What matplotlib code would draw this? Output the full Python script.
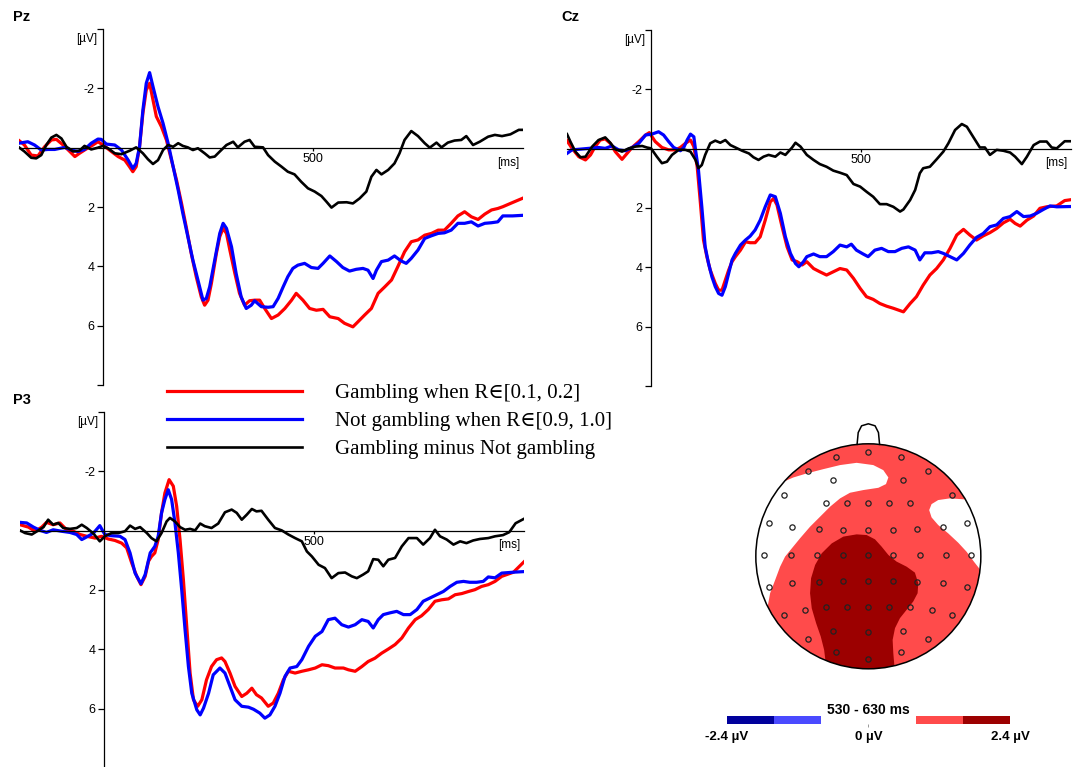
import matplotlib
matplotlib.use("Agg")
import matplotlib.pyplot as plt
import matplotlib.patches as mpatches

plt.rcParams['font.family'] = ['Liberation Sans', 'DejaVu Sans']

# ---- ERP data (time in ms, amplitude in uV, negative up) ----
pz_red_t = [-200,-187,-171,-155,-139,-123,-111,-95,-79,-67,-56,-44,-24,-12,0,20,36,52,63,71,79,87,95,103,111,119,127,139,151,163,
            175,187,198,210,222,234,242,250,258,270,278,286,294,302,314,325,337,349,361,373,385,401,417,433,449,460,476,492,508,524,
            540,560,575,595,607,623,639,655,671,687,702,718,734,750,766,782,798,813,829,845,861,877,893,909,925,940,952,975,1000]
pz_red_v = [-0.24,-0.09,0.25,0.28,-0.03,-0.26,-0.28,-0.09,0.13,0.30,0.19,0.08,-0.09,-0.20,-0.09,0.13,0.30,0.42,0.64,0.81,
            0.64,-0.03,-1.16,-1.94,-2.17,-1.61,-1.05,-0.71,-0.26,0.42,1.09,1.88,2.66,3.56,4.35,5.03,5.31,5.14,4.58,3.56,
            3.00,2.72,2.89,3.45,4.24,4.91,5.31,5.16,5.14,5.14,5.42,5.76,5.64,5.42,5.14,4.91,5.14,5.42,5.48,5.45,
            5.70,5.76,5.92,6.04,5.87,5.64,5.42,4.91,4.69,4.46,4.01,3.51,3.17,3.11,2.95,2.89,2.78,2.78,2.55,2.30,
            2.16,2.33,2.42,2.24,2.10,2.05,1.99,1.85,1.70]
pz_blue_t = [-200,-179,-163,-147,-131,-115,-91,-75,-60,-44,-28,-12,-4,8,28,44,60,71,79,87,95,103,111,119,131,143,155,167,179,190,
             202,214,226,238,246,254,266,278,286,294,306,317,329,341,353,361,377,393,405,417,429,440,452,464,480,496,512,524,540,556,
             571,587,603,619,631,643,651,663,679,694,710,722,734,750,766,782,798,813,829,845,861,877,893,909,925,940,952,975,1000]
pz_blue_v = [-0.15,-0.20,-0.09,0.08,0.06,0.06,-0.01,0.08,0.13,0.06,-0.15,-0.29,-0.28,-0.12,-0.09,0.08,0.42,0.70,0.53,-0.03,
             -1.27,-2.17,-2.53,-2.06,-1.38,-0.82,-0.15,0.64,1.43,2.21,3.00,3.79,4.46,5.14,5.08,4.69,3.79,2.89,2.55,2.72,
             3.34,4.24,5.03,5.42,5.31,5.16,5.36,5.38,5.36,5.08,4.69,4.35,4.07,3.96,3.90,4.04,4.07,3.90,3.65,3.84,
             4.04,4.16,4.10,4.07,4.13,4.41,4.13,3.84,3.79,3.65,3.82,3.90,3.73,3.45,3.06,2.97,2.89,2.87,2.78,2.55,
             2.55,2.50,2.64,2.55,2.53,2.50,2.30,2.30,2.28]
pz_diff_t = [-200,-187,-171,-159,-147,-135,-123,-111,-99,-87,-71,-56,-44,-28,-12,0,12,28,44,64,79,95,107,119,131,143,155,167,179,190,
             202,214,226,242,254,266,278,294,310,321,337,349,361,381,393,409,425,440,456,472,488,504,520,532,544,560,580,595,611,627,
             639,651,663,679,694,706,718,734,750,766,778,794,806,821,837,853,865,881,897,917,933,950,970,990,1000]
pz_diff_v = [-0.01,0.13,0.34,0.36,0.25,-0.09,-0.34,-0.43,-0.31,-0.03,0.13,0.10,-0.06,0.06,0.00,-0.06,0.02,0.19,0.22,0.10,
             -0.01,0.19,0.39,0.55,0.42,0.08,-0.09,-0.03,-0.15,-0.06,-0.01,0.08,0.02,0.19,0.33,0.30,0.13,-0.09,-0.20,-0.01,
             -0.20,-0.26,-0.03,-0.01,0.25,0.47,0.64,0.81,0.90,1.15,1.37,1.48,1.63,1.82,2.02,1.85,1.84,1.88,1.71,1.48,
             0.98,0.75,0.90,0.75,0.53,0.19,-0.26,-0.56,-0.39,-0.15,0.00,-0.17,-0.01,-0.17,-0.24,-0.26,-0.39,-0.09,-0.20,-0.37,
             -0.43,-0.39,-0.45,-0.60,-0.60]

cz_red_t = [-200,-188,-172,-156,-144,-133,-121,-109,-97,-85,-69,-57,-45,-29,-13,-4,10,26,42,58,70,82,94,102,110,117,125,133,141,153,
            161,169,177,185,193,201,213,225,236,248,260,272,284,292,300,312,324,336,348,360,371,387,402,418,434,450,466,482,498,513,
            529,545,561,577,593,601,617,632,648,664,680,696,712,728,744,759,775,791,807,823,839,855,867,879,895,911,926,942,966,985,1000]
cz_red_v = [-0.27,-0.01,0.27,0.38,0.21,-0.07,-0.29,-0.33,-0.18,0.10,0.36,0.16,-0.04,-0.24,-0.46,-0.54,-0.24,-0.04,0.04,0.04,
            -0.04,-0.18,-0.29,-0.07,0.61,1.73,3.08,3.64,4.09,4.54,4.77,4.77,4.43,4.09,3.81,3.64,3.42,3.14,3.17,3.17,
            2.97,2.41,1.79,1.68,1.90,2.63,3.31,3.75,3.81,3.92,3.81,4.04,4.15,4.26,4.15,4.04,4.09,4.37,4.71,4.99,
            5.08,5.22,5.31,5.38,5.46,5.50,5.22,4.99,4.60,4.26,4.04,3.75,3.36,2.91,2.72,2.91,3.08,2.94,2.83,2.69,
            2.50,2.38,2.52,2.61,2.41,2.27,2.01,1.96,1.93,1.75,1.72]
cz_blue_t = [-200,-188,-172,-148,-125,-109,-93,-77,-61,-45,-29,-13,2,18,30,42,54,70,78,86,94,102,106,113,121,129,137,145,153,161,
             169,177,185,193,201,213,225,236,248,260,272,284,296,308,320,332,344,352,363,371,387,402,418,434,450,466,477,489,505,517,
             533,549,565,581,597,613,629,640,652,668,684,696,712,728,744,759,775,791,807,823,839,855,871,887,903,918,934,950,966,1000]
cz_blue_v = [0.16,0.04,0.02,-0.01,-0.04,-0.01,-0.09,0.04,0.07,-0.04,-0.18,-0.46,-0.49,-0.57,-0.46,-0.24,-0.04,0.07,-0.04,-0.29,
             -0.49,-0.40,0.04,0.72,1.96,3.31,3.87,4.32,4.65,4.88,4.94,4.65,4.20,3.75,3.53,3.25,3.08,2.95,2.74,2.41,
             1.96,1.56,1.62,2.18,2.97,3.53,3.87,3.98,3.81,3.64,3.55,3.64,3.64,3.47,3.25,3.31,3.22,3.42,3.55,3.64,
             3.42,3.36,3.47,3.47,3.36,3.31,3.42,3.75,3.51,3.51,3.47,3.53,3.64,3.75,3.53,3.25,2.99,2.86,2.63,2.57,
             2.35,2.29,2.12,2.29,2.27,2.18,2.05,1.93,1.96,1.95]
cz_diff_t = [-200,-192,-180,-168,-156,-140,-125,-109,-97,-85,-69,-53,-37,-21,-10,0,14,26,38,50,66,82,94,106,113,121,129,141,153,165,
             177,189,201,217,233,244,256,268,280,296,308,320,336,344,356,371,387,402,418,434,450,466,482,498,513,529,545,561,577,593,
             601,617,629,640,648,664,680,696,708,724,740,752,767,783,795,807,823,839,855,867,883,895,911,926,942,954,966,985,1000]
cz_diff_v = [-0.49,-0.24,0.10,0.29,0.27,-0.07,-0.29,-0.38,-0.20,0.02,0.10,-0.01,-0.07,-0.09,-0.04,-0.01,0.27,0.49,0.44,0.21,
             0.04,0.04,0.10,0.38,0.66,0.55,0.21,-0.18,-0.27,-0.20,-0.29,-0.12,-0.04,0.07,0.16,0.29,0.38,0.27,0.21,0.27,
             0.13,0.21,-0.04,-0.20,-0.07,0.21,0.38,0.52,0.61,0.74,0.81,0.89,1.19,1.28,1.45,1.62,1.87,1.87,1.96,2.12,
             2.05,1.73,1.39,0.83,0.66,0.61,0.36,0.10,-0.18,-0.63,-0.83,-0.74,-0.40,-0.04,-0.04,0.21,0.04,0.07,0.13,0.27,
             0.52,0.27,-0.12,-0.24,-0.24,-0.04,-0.01,-0.25,-0.25]

p3_red_t = [-200,-180,-164,-148,-137,-121,-105,-89,-73,-57,-41,-21,-6,10,26,42,54,66,78,88,98,106,113,121,129,137,145,155,165,173,
            181,189,197,205,213,223,233,244,256,268,280,288,300,312,328,340,352,363,375,391,403,415,427,439,455,471,487,503,519,534,
            550,570,582,598,614,629,645,661,677,693,709,725,741,756,772,788,804,820,836,852,868,883,899,915,931,947,975,1000]
p3_red_v = [-0.20,-0.12,0.02,-0.12,-0.28,-0.20,-0.26,-0.03,0.02,0.13,0.19,0.25,0.19,0.28,0.33,0.42,0.58,1.09,1.54,1.82,
            1.54,1.03,0.87,0.75,0.30,-0.60,-1.27,-1.72,-1.50,-0.82,0.30,1.65,3.23,4.80,5.70,5.92,5.70,5.03,4.58,4.35,
            4.29,4.41,4.80,5.25,5.59,5.48,5.31,5.53,5.64,5.92,5.81,5.48,5.03,4.74,4.80,4.74,4.69,4.63,4.52,4.55,
            4.63,4.63,4.69,4.74,4.58,4.41,4.30,4.13,3.99,3.84,3.62,3.28,3.00,2.87,2.66,2.38,2.33,2.30,2.16,2.12,
            2.05,1.99,1.88,1.82,1.71,1.54,1.40,1.05]
p3_blue_t = [-200,-184,-168,-152,-137,-121,-101,-81,-65,-53,-41,-25,-10,2,18,38,50,62,74,88,98,110,121,129,137,145,153,161,169,177,
             185,193,201,209,221,229,237,249,260,276,288,300,312,328,344,356,371,383,395,407,419,431,443,459,471,487,503,519,534,550,
             566,582,598,614,629,641,653,665,681,697,713,729,745,760,776,792,808,824,840,856,871,887,903,915,931,947,975,1000]
p3_blue_v = [-0.28,-0.26,-0.12,-0.01,0.06,-0.03,0.02,0.06,0.13,0.30,0.21,0.08,-0.17,0.13,0.17,0.19,0.30,0.75,1.43,1.79,
             1.48,0.75,0.53,0.19,-0.60,-1.05,-1.38,-1.05,-0.26,0.75,1.99,3.34,4.58,5.48,6.04,6.21,5.98,5.48,4.86,4.63,
             4.80,5.25,5.70,5.92,5.95,6.02,6.15,6.32,6.21,5.92,5.48,4.91,4.63,4.58,4.35,3.90,3.56,3.40,3.00,2.95,
             3.17,3.25,3.17,3.00,3.06,3.28,3.00,2.83,2.77,2.72,2.83,2.83,2.66,2.38,2.27,2.16,2.05,1.88,1.74,1.71,
             1.74,1.74,1.71,1.56,1.59,1.43,1.40,1.38]
p3_diff_t = [-200,-188,-172,-156,-144,-133,-121,-109,-97,-81,-65,-53,-41,-25,-10,2,18,34,50,62,74,86,102,113,125,137,149,157,169,181,
             193,205,217,229,240,256,272,288,304,316,328,340,352,363,375,391,407,423,439,455,471,483,495,511,526,542,558,574,590,602,
             617,629,641,653,665,677,693,709,725,745,760,776,788,800,816,832,848,863,879,895,915,931,950,965,980,1000]
p3_diff_v = [-0.01,0.08,0.13,-0.01,-0.12,-0.37,-0.20,-0.26,-0.09,-0.06,-0.09,-0.20,-0.09,0.10,0.36,0.19,0.08,0.08,0.02,-0.17,
             -0.06,-0.12,0.08,0.25,0.36,0.08,-0.31,-0.43,-0.31,-0.12,-0.03,-0.06,-0.01,-0.24,-0.15,-0.09,-0.24,-0.62,-0.71,-0.60,
             -0.37,-0.54,-0.73,-0.65,-0.67,-0.37,-0.09,-0.01,0.13,0.25,0.36,0.70,0.87,1.15,1.26,1.60,1.43,1.41,1.54,1.60,
             1.48,1.37,0.96,0.98,1.20,0.98,0.92,0.53,0.25,0.25,0.47,0.25,-0.03,0.19,0.30,0.47,0.36,0.42,0.33,0.28,
             0.25,0.19,0.15,0.05,-0.25,-0.40]

labels = ['Gambling when R\u2208[0.1, 0.2]', 'Not gambling when R\u2208[0.9, 1.0]', 'Gambling minus Not gambling']

# ---- topomap (head radius = 1, nose up) ----
elec_x = [0, -0.287, 0.287, -0.538, 0.533, -0.311, 0.305, -0.754, 0.740,
          -0.376, -0.186, 0, 0.183, 0.373,
          -0.879, -0.675, -0.435, -0.222, 0, 0.222, 0.429, 0.666, 0.873,
          -0.926, -0.689, -0.459, -0.222, 0, 0.222, 0.459, 0.686, 0.917,
          -0.879, -0.675, -0.435, -0.222, 0, 0.222, 0.429, 0.666, 0.873,
          -0.754, -0.562, -0.376, -0.186, 0, 0.183, 0.373, 0.562, 0.740,
          -0.311, 0, 0.305, -0.538, 0.533, -0.287, 0, 0.287]
elec_y = [0.929, 0.879, 0.879, 0.757, 0.757, 0.678, 0.678, 0.544, 0.544,
          0.470, 0.470, 0.470, 0.470, 0.470,
          0.293, 0.257, 0.246, 0.234, 0.234, 0.234, 0.246, 0.257, 0.293,
          0.009, 0.009, 0.009, 0.009, 0.009, 0.009, 0.009, 0.009, 0.009,
          -0.269, -0.240, -0.228, -0.216, -0.216, -0.216, -0.228, -0.240, -0.269,
          -0.524, -0.476, -0.453, -0.453, -0.453, -0.453, -0.453, -0.476, -0.524,
          -0.660, -0.672, -0.660, -0.737, -0.737, -0.855, -0.911, -0.855]

# outlines of the contour bands (|V| < 0.8 white, 1.6-2.4 dark red)
white_left_x = [-1.109, -0.754, -0.666, -0.547, -0.399, -0.251, -0.104, 0.044, 0.133, 0.178, 0.157, 0.089, -0.044,
                -0.163, -0.251, -0.340, -0.429, -0.518, -0.607, -0.680, -0.740, -0.784, -0.828, -0.873, -0.896, -0.991, -1.109]
white_left_y = [0.766, 0.663, 0.701, 0.737, 0.775, 0.811, 0.831, 0.811, 0.766, 0.701, 0.642, 0.609, 0.589,
                0.565, 0.515, 0.441, 0.352, 0.263, 0.160, 0.071, -0.003, -0.092, -0.210, -0.328, -0.453, -0.565, -0.565]
white_right_x = [0.858, 0.725, 0.621, 0.562, 0.541, 0.562, 0.621, 0.710, 0.799, 0.873, 0.938, 0.991, 1.2, 1.2, 0.9]
white_right_y = [0.506, 0.515, 0.500, 0.464, 0.411, 0.346, 0.278, 0.204, 0.121, 0.041, -0.047, -0.115, -0.15, 0.6, 0.6]
dark_x = [-0.376, -0.382, -0.393, -0.423, -0.464, -0.503, -0.518, -0.509, -0.473, -0.414, -0.325, -0.222, -0.104, -0.015,
          0.059, 0.118, 0.178, 0.251, 0.340, 0.414, 0.444, 0.438, 0.399, 0.340, 0.281, 0.237, 0.216, 0.222, 0.237]
dark_y = [-1.038, -0.920, -0.831, -0.713, -0.595, -0.462, -0.328, -0.195, -0.077, 0.027, 0.115, 0.175, 0.195, 0.189,
          0.151, 0.086, 0.012, -0.047, -0.092, -0.145, -0.240, -0.328, -0.402, -0.476, -0.550, -0.639, -0.743, -0.861, -1.038]
nose_x = [-0.10, -0.09, -0.06, 0.0, 0.06, 0.09, 0.10]
nose_y = [0.995, 1.10, 1.16, 1.178, 1.16, 1.10, 0.995]

cb_bounds = [-2.4, -1.6, -0.8, 0.8, 1.6, 2.4]
cb_colors = ['#00009c', '#4a4aff', 'white', '#ff4b4b', '#9c0000']
cb_ticklabels = ['-2.4 \u00b5V', '0 \u00b5V', '2.4 \u00b5V']
cb_tickvals = [-2.4, 0, 2.4]

RED = '#ff0000'
BLUE = '#0000ff'

fig = plt.figure(figsize=(10.77, 7.67), dpi=100)


def erp_axes(rect, name, name_xy, red, blue, diff):
    ax = fig.add_axes(rect)
    ax.set_xlim(-200, 1000)
    ax.set_ylim(8, -4)
    ax.patch.set_alpha(0)
    for s in ['top', 'right']:
        ax.spines[s].set_visible(False)
    ax.spines['left'].set_position(('data', 0))
    ax.spines['bottom'].set_position(('data', 0))
    ax.spines['left'].set_linewidth(0.9)
    ax.spines['bottom'].set_linewidth(0.9)
    ax.set_yticks([-4, -2, 2, 4, 6, 8])
    ax.set_yticklabels(['', '-2', '2', '4', '6', ''])
    ax.set_xticks([500])
    ax.set_xticklabels(['500'])
    ax.tick_params(axis='y', direction='out', length=4, width=0.9, pad=2, labelsize=9)
    ax.tick_params(axis='x', direction='out', length=2.5, width=0.9, pad=1.5, labelsize=9)
    l1, = ax.plot(red[0], red[1], color=RED, lw=2.3)
    l2, = ax.plot(blue[0], blue[1], color=BLUE, lw=2.3)
    l3, = ax.plot(diff[0], diff[1], color='black', lw=1.9)
    ax.text(-14, -3.65, '[\u00b5V]', ha='right', va='center', fontsize=8.5)
    ax.text(992, 0.5, '[ms]', ha='right', va='center', fontsize=8.5)
    fig.text(name_xy[0] / 1077, 1 - name_xy[1] / 767, name, fontsize=10.5, weight='bold', va='center')
    return ax, [l1, l2, l3]


ax_pz, handles = erp_axes([0.01764, 0.49804, 0.46797, 0.46415], 'Pz', (13, 17),
                          (pz_red_t, pz_red_v), (pz_blue_t, pz_blue_v), (pz_diff_t, pz_diff_v))
ax_cz, _ = erp_axes([0.52646, 0.49674, 0.46797, 0.46415], 'Cz', (561, 17),
                    (cz_red_t, cz_red_v), (cz_blue_t, cz_blue_v), (cz_diff_t, cz_diff_v))
ax_p3, _ = erp_axes([0.01857, -0.0013, 0.46797, 0.46415], 'P3', (13, 400),
                    (p3_red_t, p3_red_v), (p3_blue_t, p3_blue_v), (p3_diff_t, p3_diff_v))

fig.legend(handles, labels, loc='upper left', bbox_to_anchor=(167 / 1077, 0.4997),
           frameon=False, handlelength=6.5, handletextpad=1.55, labelspacing=0.4,
           borderpad=0, borderaxespad=0,
           prop={'family': ['Liberation Serif', 'DejaVu Serif'], 'size': 15})

# topomap
ax_t = fig.add_axes([0.6809, 0.0987, 0.2507, 0.3520])
ax_t.set_xlim(-1.2, 1.2)
ax_t.set_ylim(-1.2, 1.2)
ax_t.axis('off')
head = mpatches.Circle((0, 0), 1.0, facecolor=cb_colors[3], edgecolor='none')
ax_t.add_patch(head)
for xs, ys, c in [(white_left_x, white_left_y, 'white'),
                  (white_right_x, white_right_y, 'white'),
                  (dark_x, dark_y, cb_colors[4])]:
    for p in ax_t.fill(xs, ys, color=c, lw=0):
        p.set_clip_path(head)
ax_t.add_patch(mpatches.Circle((0, 0), 1.0, fill=False, edgecolor='black', lw=1.1))
ax_t.plot(nose_x, nose_y, color='black', lw=1.1)
ax_t.plot(elec_x, elec_y, 'o', ms=3.8, mfc='none', mec='#222222', mew=0.9)

# colour bar
ax_cb = fig.add_axes([0.675, 0.0561, 0.2628, 0.0104])
ax_cb.set_xlim(-2.4, 2.4)
ax_cb.set_ylim(0, 1)
widths = [b - a for a, b in zip(cb_bounds[:-1], cb_bounds[1:])]
ax_cb.barh(0.5, widths, left=cb_bounds[:-1], height=1, color=cb_colors, linewidth=0)
for s in ax_cb.spines.values():
    s.set_visible(False)
ax_cb.set_yticks([])
ax_cb.set_xticks([0])
ax_cb.set_xticklabels([''])
ax_cb.tick_params(axis='x', length=2, width=0.6, color='#888888')
for v, lab in zip(cb_tickvals, cb_ticklabels):
    ax_cb.text(v, -1.6, lab, ha='center', va='center', fontsize=9.5, weight='bold')
ax_cb.text(0, 1.8, '530 - 630 ms', ha='center', va='center', fontsize=10, weight='bold')

fig.savefig('out.png', dpi=100)
